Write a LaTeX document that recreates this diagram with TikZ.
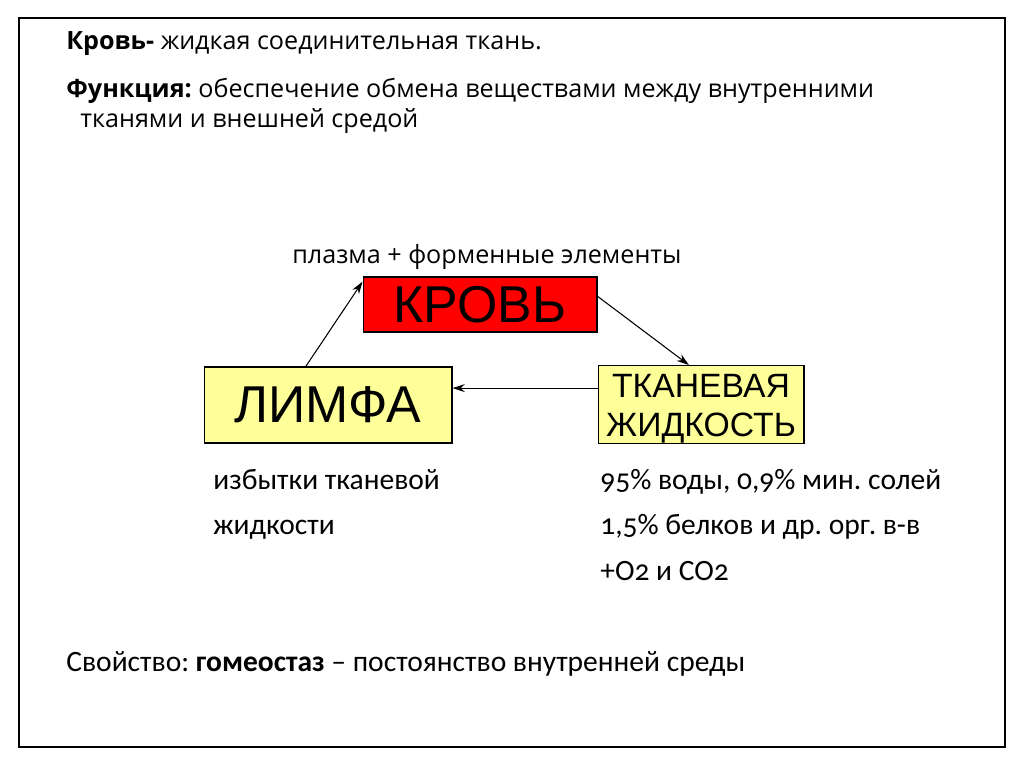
\documentclass[tikz,border=0pt]{standalone}
\usepackage{fontspec}
\setmainfont{Open Sans}
\newfontfamily\bodyfont[Numbers=OldStyle, Ligatures=TeX]{Carlito}
\newfontfamily\boxfont{Liberation Sans}
\usepackage{xcolor}
\definecolor{krovred}{HTML}{FF0000}
\definecolor{boxyellow}{HTML}{FFFF99}
\usetikzlibrary{arrows.meta, positioning}
\frenchspacing

\begin{document}
\begin{tikzpicture}[
  x=0.02cm, y=-0.02cm,
  box/.style={rectangle, draw, line width=0.6pt, inner sep=0pt, align=center,
    font=\boxfont},
  arrow/.style={-{Stealth[length=7pt, width=4.5pt]}, line width=0.6pt},
  head/.style={anchor=base west, inner sep=0pt, font=\fontsize{14.3}{17}\selectfont},
  body/.style={anchor=base west, inner sep=0pt, font=\bodyfont\fontsize{16.8}{20}\selectfont}
]
\useasboundingbox (0,0) rectangle (1024,767);
\draw[line width=1.1pt] (19,18) rectangle (1005,747);

% header
\node[head] (def) at (66,50) {\textbf{Кровь-} жидкая соединительная ткань.};
\node[head] (func) at (66,97) {\textbf{Функция:} обеспечение обмена веществами между внутренними};
\node[head] (func2) at (80,128) {тканями и внешней средой};

% circulation
\node[box, fill=krovred, minimum width=4.68cm, minimum height=1.1cm,
  font=\boxfont\fontsize{29.5}{30}\selectfont] (krov) at (480,304.5) {КРОВЬ};
\node[box, fill=boxyellow, minimum width=4.96cm, minimum height=1.52cm,
  font=\boxfont\fontsize{29.5}{30}\selectfont] (limfa) at (328,405) {ЛИМФА};
\node[box, fill=boxyellow, minimum width=4.12cm, minimum height=1.54cm,
  font=\boxfont\fontsize{19.2}{22.5}\selectfont] (tkan) at (701,404.5)
  {\rule{0pt}{18pt}ТКАНЕВАЯ\\ЖИДКОСТЬ};

\node[head] (sostav) at (292,263) {плазма + форменные элементы};

\draw[arrow] (limfa.120) -- (krov.169);
\draw[arrow] (krov.4) -- (tkan.107);
\draw[arrow] (tkan.171) -- (tkan.171 -| limfa.east);

% notes
\node[body] (izb1) at (213,489) {избытки тканевой};
\node[body] (izb2) at (213,534) {жидкости};
\node[body] (voda) at (600,489) {95\% воды, 0,9\% мин. солей};
\node[body] (belok) at (600,534) {1,5\% белков и др. орг. в-в};
\node[body] (gaz) at (600,580) {+O2 и CO2};

\node[body] (svoystvo) at (66,671) {Свойство: \textbf{гомеостаз} – постоянство внутренней среды};
\end{tikzpicture}
\end{document}
